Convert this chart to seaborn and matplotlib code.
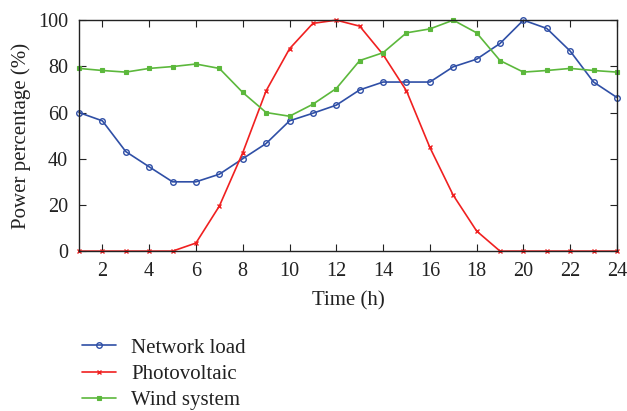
import matplotlib
matplotlib.use("Agg")
import matplotlib.pyplot as plt
import seaborn as sns
import pandas as pd

hours = list(range(1, 25))
network_load = [60, 56.4, 43.1, 36.5, 30, 30, 33.3, 40, 46.6, 56.4, 59.7, 63.2,
                69.8, 73.2, 73.2, 73.2, 79.8, 83.1, 89.9, 100, 96.4, 86.6, 73.2, 66.5]
photovoltaic = [0, 0, 0, 0, 0, 3.5, 19.5, 42.6, 69.4, 87.6, 98.6, 100,
                97.4, 85.1, 69.4, 44.9, 24.2, 8.7, 0, 0, 0, 0, 0, 0]
wind_system = [79.1, 78.2, 77.5, 79.1, 79.9, 81.0, 79.1, 68.7, 60.0, 58.4, 63.6, 70.4,
               82.5, 85.9, 94.5, 96.2, 100, 94.5, 82.5, 77.5, 78.2, 79.1, 78.2, 77.5]
series_names = ["Network load", "Photovoltaic", "Wind system"]
x_ticks = list(range(2, 25, 2))
y_ticks = [0, 20, 40, 60, 80, 100]

df = pd.DataFrame({
    "Time (h)": hours * 3,
    "Power percentage (%)": network_load + photovoltaic + wind_system,
    "series": [series_names[0]] * 24 + [series_names[1]] * 24 + [series_names[2]] * 24,
})

sns.set_theme(style="ticks")
plt.rcParams["font.family"] = ["Liberation Serif", "DejaVu Serif"]

fig = plt.figure(figsize=(6.27, 4.11), dpi=100)
ax = fig.add_axes([0.126, 0.389, 0.858, 0.562])

palette = {"Network load": "#2f4fa6", "Photovoltaic": "#f02020", "Wind system": "#5cb83c"}
marker_style = {
    "Network load": dict(marker="o", mfc="none", ms=4, mew=1.0),
    "Photovoltaic": dict(marker="x", ms=3.5, mew=1.0),
    "Wind system": dict(marker="s", ms=3.5, mew=0.8),
}
for name in series_names:
    sub = df[df["series"] == name]
    sns.lineplot(data=sub, x="Time (h)", y="Power percentage (%)", ax=ax,
                 color=palette[name], lw=1.2, label=name, clip_on=False,
                 mec=palette[name], **marker_style[name])

ax.set_xlim(1, 24)
ax.set_ylim(0, 100)
ax.set_xticks(x_ticks)
ax.set_yticks(y_ticks)
ax.tick_params(direction="in", top=True, right=True, length=5, width=0.8,
               labelsize=14.5, colors="#222222", pad=8)
for s in ax.spines.values():
    s.set_linewidth(1.0)
    s.set_color("#222222")
ax.set_xlabel("Time (h)", fontsize=15, color="#222222", labelpad=7)
ax.set_ylabel("Power percentage (%)", fontsize=15, color="#222222", labelpad=5)

ax.legend(loc="center left", bbox_to_anchor=(-0.017, -0.532), frameon=False,
          fontsize=15, handlelength=1.6, handletextpad=0.75, labelspacing=0.32,
          borderpad=0.1, labelcolor="#222222")

fig.savefig("out.png", dpi=100)
